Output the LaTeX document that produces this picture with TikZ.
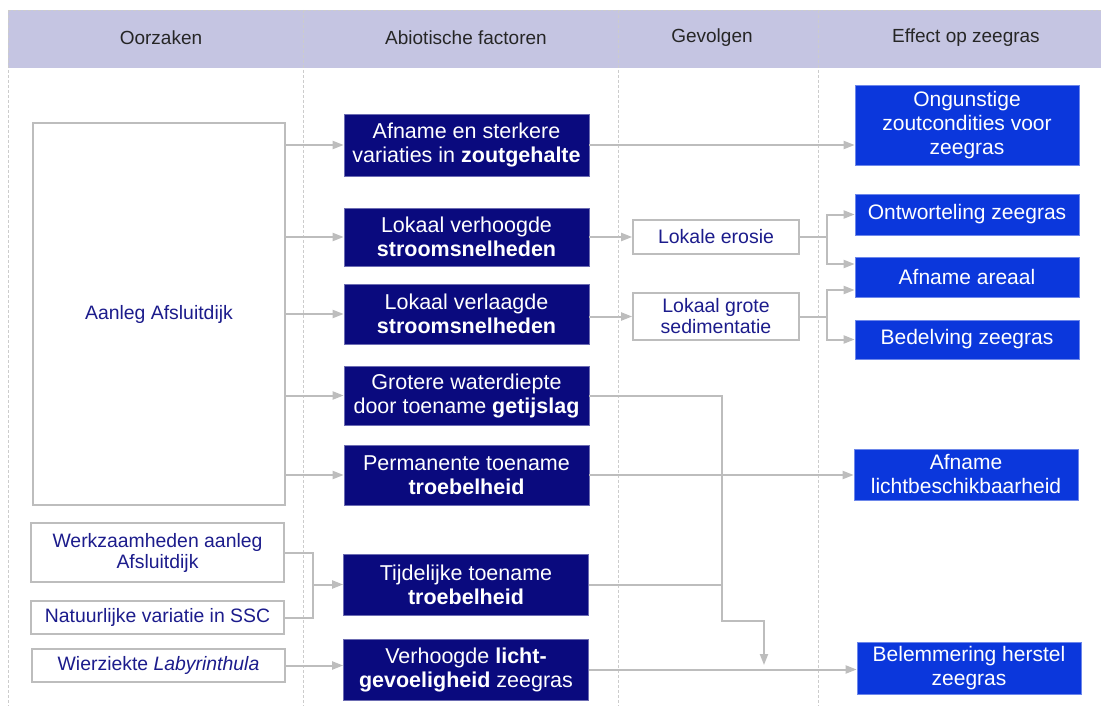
\documentclass[tikz,border=0pt]{standalone}
\usepackage{fontspec}
\setmainfont{Liberation Sans}
\usetikzlibrary{arrows.meta}
\definecolor{navy}{HTML}{0A0A7E}
\definecolor{effblue}{HTML}{0B37DC}
\definecolor{hdr}{HTML}{C5C5E2}
\definecolor{conn}{HTML}{BDBDBD}
\definecolor{grid}{HTML}{CCCCCC}
\definecolor{txtblue}{HTML}{1C1C8C}
\tikzset{
  gridline/.style={draw=grid, line width=0.8pt, dash pattern=on 3pt off 2pt},
  hdrtext/.style={font=\fontsize{19}{22}\selectfont, text=black!85},
  causebox/.style={draw=conn, line width=1.6pt, fill=white, text=txtblue, align=center, inner sep=0pt, font=\fontsize{19.4}{21}\selectfont},
  abiobox/.style={fill=navy, draw=navy!60!white, line width=0.6pt, text=white, align=center, inner sep=0pt, minimum width=245pt, font=\fontsize{21.5}{24}\selectfont},
  gevbox/.style={draw=conn, line width=1.6pt, fill=white, text=txtblue, align=center, inner sep=0pt, minimum width=166pt, font=\fontsize{19.5}{21}\selectfont},
  effbox/.style={fill=effblue, draw=effblue!60!white, line width=0.6pt, text=white, align=center, inner sep=0pt, minimum width=224pt, font=\fontsize{21}{24}\selectfont},
  conline/.style={draw=conn, line width=2pt},
  arr/.style={conline, -{Triangle[length=11pt,width=8pt]}},
}
\begin{document}
\begin{tikzpicture}[x=1pt,y=-1pt]
\useasboundingbox (0,0) rectangle (1101,706);
% header
\fill[hdr] (8,10) rectangle (1101,68);
\draw[gridline] (8,10) -- (1101,10);
\foreach \gx in {8,303,618,818} { \draw[gridline] (\gx,10) -- (\gx,706); }
\node[hdrtext] (h1) at (161,38) {Oorzaken};
\node[hdrtext] (h2) at (466,38) {Abiotische factoren};
\node[hdrtext] (h3) at (712,38) {Gevolgen};
\node[hdrtext] (h4) at (966,38) {Effect op zeegras};

% causes
\node[causebox, minimum width=252pt, minimum height=382pt] (aanleg) at (159,314) {Aanleg Afsluitdijk};
\node[causebox, minimum width=253pt, minimum height=59pt] (werk) at (157.5,552.5) {Werkzaamheden aanleg\\Afsluitdijk};
\node[causebox, minimum width=253pt, minimum height=33pt] (natuur) at (157.5,617.5) {Natuurlijke variatie in SSC};
\node[causebox, minimum width=253pt, minimum height=33pt] (wier) at (158.5,665.5) {Wierziekte \textit{Labyrinthula}};

% abiotic
\node[abiobox, minimum height=62pt] (zout) at (466.5,145) {Afname en sterkere\\variaties in \textbf{zoutgehalte}};
\node[abiobox, minimum height=58pt] (verh) at (466.5,237) {Lokaal verhoogde\\\textbf{stroomsnelheden}};
\node[abiobox, minimum height=60pt] (verl) at (466.5,314) {Lokaal verlaagde\\\textbf{stroomsnelheden}};
\node[abiobox, minimum height=59pt] (grot) at (466.5,395.5) {Grotere waterdiepte\\door toename \textbf{getijslag}};
\node[abiobox, minimum height=60pt] (perm) at (466.5,475) {Permanente toename\\\textbf{troebelheid}};
\node[abiobox, minimum height=61pt] (tijd) at (466,584.5) {Tijdelijke toename\\\textbf{troebelheid}};
\node[abiobox, minimum height=61pt] (lichtg) at (466,669.5) {Verhoogde \textbf{licht-}\\\textbf{gevoeligheid} zeegras};

% gevolgen
\node[gevbox, minimum height=34pt] (eros) at (716,237) {Lokale erosie};
\node[gevbox, minimum height=47pt] (sedi) at (716,316.5) {Lokaal grote\\sedimentatie};

% effects
\node[effbox, minimum height=80pt] (ong) at (967,125) {Ongunstige\\zoutcondities voor\\zeegras};
\node[effbox, minimum height=41pt] (ontw) at (967,214.5) {Ontworteling zeegras};
\node[effbox, minimum height=40pt] (areaal) at (967,277) {Afname areaal};
\node[effbox, minimum height=39pt] (bedel) at (967,339.5) {Bedelving zeegras};
\node[effbox, minimum height=51pt] (licht) at (966,474.5) {Afname\\lichtbeschikbaarheid};
\node[effbox, minimum height=52pt] (belem) at (969,668) {Belemmering herstel\\zeegras};

% junction coordinates
\coordinate (b1) at (827,237);
\coordinate (b2) at (827,316.5);
\coordinate (j1) at (722,395.5);
\coordinate (j1b) at (722,621);
\coordinate (j1c) at (764,621);
\coordinate (m1) at (764,665);
\coordinate (j2) at (313,584.5);

% connectors from Aanleg
\foreach \t in {zout,verh,verl,grot,perm} {
  \draw[arr] (aanleg.east |- \t.west) -- (\t.west);
}
\draw[arr] (zout.east) -- (zout.east -| ong.west);
\draw[arr] (verh.east) -- (eros.west);
\draw[arr] (verl.east |- sedi.west) -- (sedi.west);
\draw[conline] (eros.east) -- (b1);
\draw[arr] (b1) |- (ontw.west);
\draw[arr] (b1) |- ([yshift=13pt]areaal.west);
\draw[conline] (sedi.east) -- (b2);
\draw[arr] (b2) |- ([yshift=-13pt]areaal.west);
\draw[arr] (b2) |- (bedel.west);
\draw[arr] (grot.east) -- (j1) -- (j1b) -- (j1c) -- (m1);
\draw[conline] (tijd.east) -- (tijd.east -| j1);
\draw[arr] (perm.east) -- (perm.east -| licht.west);
\draw[conline] (werk.east) -| (j2);
\draw[conline] (natuur.east) -| (j2);
\draw[arr] (j2) -- (tijd.west);
\draw[arr] (wier.east) -- (wier.east -| lichtg.west);
\draw[arr] (lichtg.east) -- (lichtg.east -| belem.west);
\end{tikzpicture}
\end{document}
